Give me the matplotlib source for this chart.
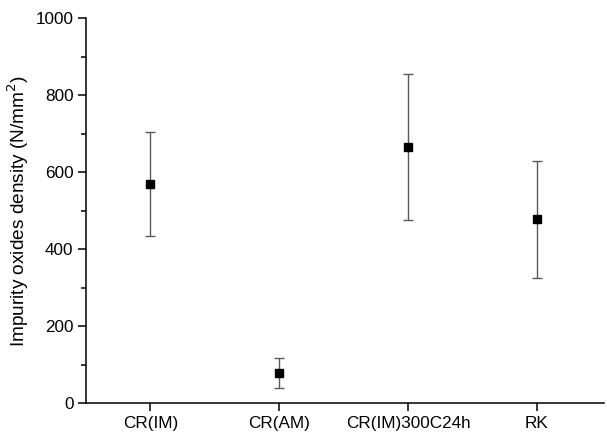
import numpy as np
import matplotlib
matplotlib.use('Agg')
from matplotlib import pyplot as plt
from matplotlib.ticker import MultipleLocator

# values
categories = ['CR(IM)', 'CR(AM)', 'CR(IM)300C24h', 'RK']
density = [570, 78, 666, 477]
density_err = [135, 38, 190, 152]

plt.rcParams['font.family'] = ['Liberation Sans', 'DejaVu Sans']
plt.rcParams['font.size'] = 12.3

fig = plt.figure(figsize=(6.07, 4.32), dpi=100)
ax = fig.add_axes([0.1417, 0.067, 0.853, 0.891])

x = np.arange(1, len(categories) + 1)
ax.errorbar(x, density, yerr=density_err, fmt='none', ecolor='#5a5a5a',
            elinewidth=1.0, capsize=3.4, capthick=1.0, zorder=2)
ax.plot(x, density, 's', color='black', markersize=5.8, zorder=3)

ax.set_xlim(0.5, 4.52)
ax.set_ylim(0, 1000)
ax.set_xticks(x)
ax.set_xticklabels(categories)
ax.yaxis.set_major_locator(MultipleLocator(200))
ax.yaxis.set_minor_locator(MultipleLocator(100))
ax.set_ylabel('Impurity oxides density (N/mm$^2$)', fontsize=13.7, labelpad=3)

for side in ['top', 'right']:
    ax.spines[side].set_visible(False)
for side in ['left', 'bottom']:
    ax.spines[side].set_linewidth(1.1)
ax.tick_params(axis='both', which='major', direction='out', length=5.5, width=1.1, colors='black', labelsize=12.3)
ax.tick_params(axis='y', which='minor', direction='out', length=3.5, width=1.1)
ax.tick_params(axis='x', which='minor', bottom=False)
ax.spines['bottom'].set_clip_on(False)

plt.savefig('out.png', dpi=100)
